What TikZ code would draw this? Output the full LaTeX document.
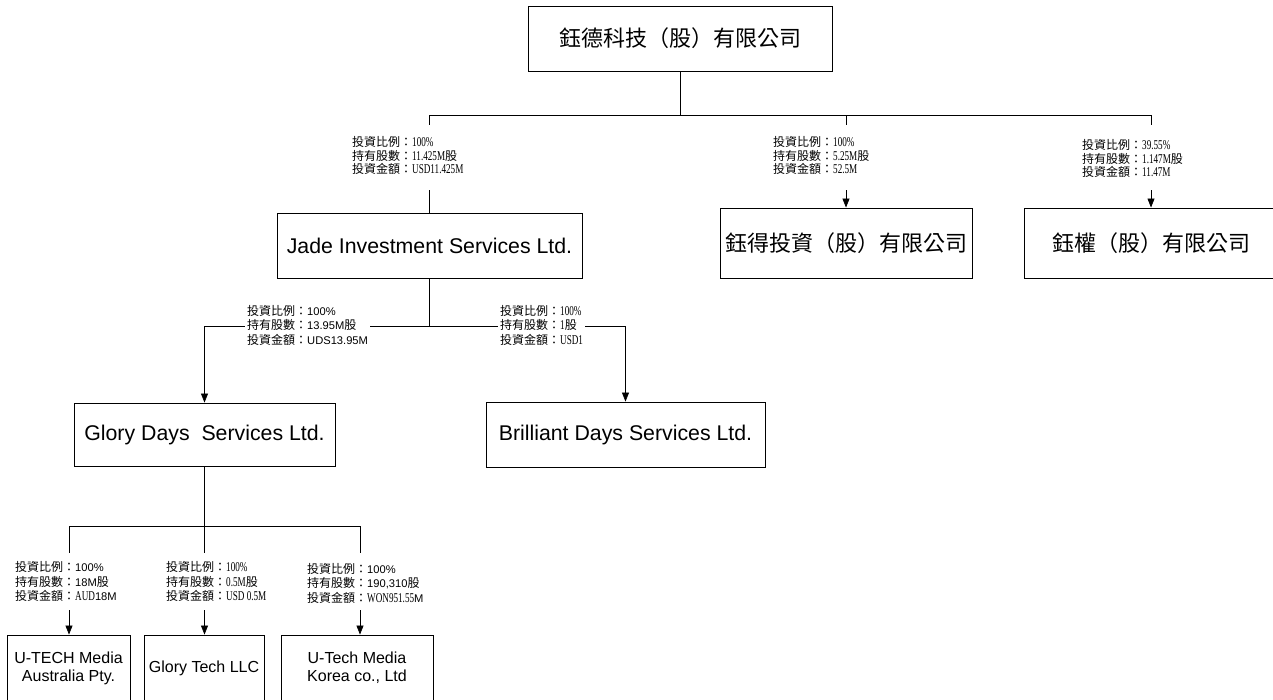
\documentclass[tikz,border=0pt]{standalone}
\usepackage{fontspec}
\setmainfont{Liberation Serif}
\newfontfamily\cjk{Noto Sans CJK TC}
\newfontfamily\arial{Liberation Sans}
\newfontfamily\nsan[Scale=0.93]{Liberation Sans}
\newfontfamily\nser[Scale=1.12,FakeStretch=0.68]{Liberation Serif}
\usetikzlibrary{arrows.meta}
\begin{document}
\begin{tikzpicture}[x=1pt,y=-1pt,
  box/.style={draw, line width=0.9pt, rectangle, inner sep=0pt, align=center},
  ebox/.style={box, font=\fontsize{21.3}{24}\selectfont\arial},
  cbox/.style={box, font=\fontsize{22}{26}\selectfont\cjk},
  sbox/.style={box, font=\fontsize{16}{18}\selectfont\arial},
  lab/.style={align=left, inner xsep=2pt, inner ysep=1pt, anchor=west, font=\fontsize{12}{13.5}\selectfont\cjk},
  labb/.style={lab, font=\fontsize{12}{14.5}\selectfont\cjk},
  conn/.style={line width=0.7pt},
  arr/.style={conn, -{Triangle[length=9pt,width=7pt]}},
]
\useasboundingbox (0,0) rectangle (1273,699);
\clip (0,0) rectangle (1273,699);

% boxes
\node[cbox, minimum width=304pt, minimum height=65pt] (top) at (680,38.5) {鈺德科技（股）有限公司};
\node[ebox, minimum width=305pt, minimum height=65pt] (jade) at (429.5,245.5) {Jade Investment Services Ltd.};
\node[cbox, minimum width=252pt, minimum height=70pt] (yd) at (846,243) {鈺得投資（股）有限公司};
\node[cbox, minimum width=254pt, minimum height=70pt] (yq) at (1151,243) {鈺權（股）有限公司};
\node[ebox, minimum width=261pt, minimum height=63pt] (glory) at (204.5,434.5) {Glory Days\ \ Services Ltd.};
\node[ebox, minimum width=279pt, minimum height=65pt] (bril) at (625.5,434.5) {Brilliant Days Services Ltd.};
\node[sbox, minimum width=123pt, minimum height=66pt] (ua) at (68.5,668) {U-TECH Media\\Australia Pty.};
\node[sbox, minimum width=120pt, minimum height=66pt] (gt) at (204,668) {Glory Tech LLC};
\node[sbox, minimum width=152pt, minimum height=66pt] (uk) at (357,668) {U-Tech Media\\Korea co., Ltd};

% top level connectors
\coordinate (tb) at (680,115);
\draw[conn] (top.south) -- (tb);
\draw[conn] (tb -| jade.north) -- (tb -| yq.north);
\foreach \n in {jade,yd,yq} \draw[conn] (tb -| \n.north) -- ++(0,10);

\node[lab] (l1) at (350,155.5) {投資比例：{\nser 100\%}\\持有股數：{\nser 11.425M}股\\投資金額：{\nser USD11.425M}};
\node[lab] (l2) at (771,155.5) {投資比例：{\nser 100\%}\\持有股數：{\nser 5.25M}股\\投資金額：{\nser 52.5M}};
\node[lab] (l3) at (1080,158.5) {投資比例：{\nser 39.55\%}\\持有股數：{\nser 1.147M}股\\投資金額：{\nser 11.47M}};

\coordinate (ta) at (0,190);
\draw[conn] (ta -| jade.north) -- (jade.north);
\draw[arr] (ta -| yd.north) -- (yd.north);
\draw[arr] (ta -| yq.north) -- (yq.north);

% Jade down
\coordinate (jb) at (429.5,326);
\draw[conn] (jade.south) -- (jb);
\draw[conn] (jb -| glory.north) -- (jb -| bril.north);
\draw[arr] (jb -| glory.north) -- (glory.north);
\draw[arr] (jb -| bril.north) -- (bril.north);
\node[labb, fill=white] (l4) at (245,325) {投資比例：{\nsan 100\%}\\持有股數：{\nsan 13.95M}股\\投資金額：{\nsan UDS13.95M}};
\node[labb, fill=white] (l5) at (498,325) {投資比例：{\nser 100\%}\\持有股數：{\nser 1}股\\投資金額：{\nser USD1}};

% Glory down
\coordinate (gb) at (204.5,526);
\coordinate (gb2) at (204.5,533);
\coordinate (xa) at (69,526);
\coordinate (xk) at (360,526);
\draw[conn] (glory.south) -- (gb2);
\draw[conn] (xa) -- (xk);
\draw[conn] (xa) -- ++(0,27);
\draw[conn] (gb) -- ++(0,27);
\draw[conn] (xk) -- ++(0,27);

\node[labb] (l6) at (13,581.5) {投資比例：{\nsan 100\%}\\持有股數：{\nsan 18M}股\\投資金額：{\nser AUD}{\nsan 18M}};
\node[labb] (l7) at (164,581.5) {投資比例：{\nser 100\%}\\持有股數：{\nser 0.5M}股\\投資金額：{\nser USD 0.5M}};
\node[labb] (l8) at (305,583) {投資比例：{\nsan 100\%}\\持有股數：{\nsan 190,310}股\\投資金額：{\nser WON951.55}{\nsan M}};

\coordinate (ba) at (0,610);
\draw[arr] (ba -| xa) -- (xa |- ua.north);
\draw[arr] (ba -| gb) -- (gb |- gt.north);
\draw[arr] (ba -| xk) -- (xk |- uk.north);
\end{tikzpicture}
\end{document}
